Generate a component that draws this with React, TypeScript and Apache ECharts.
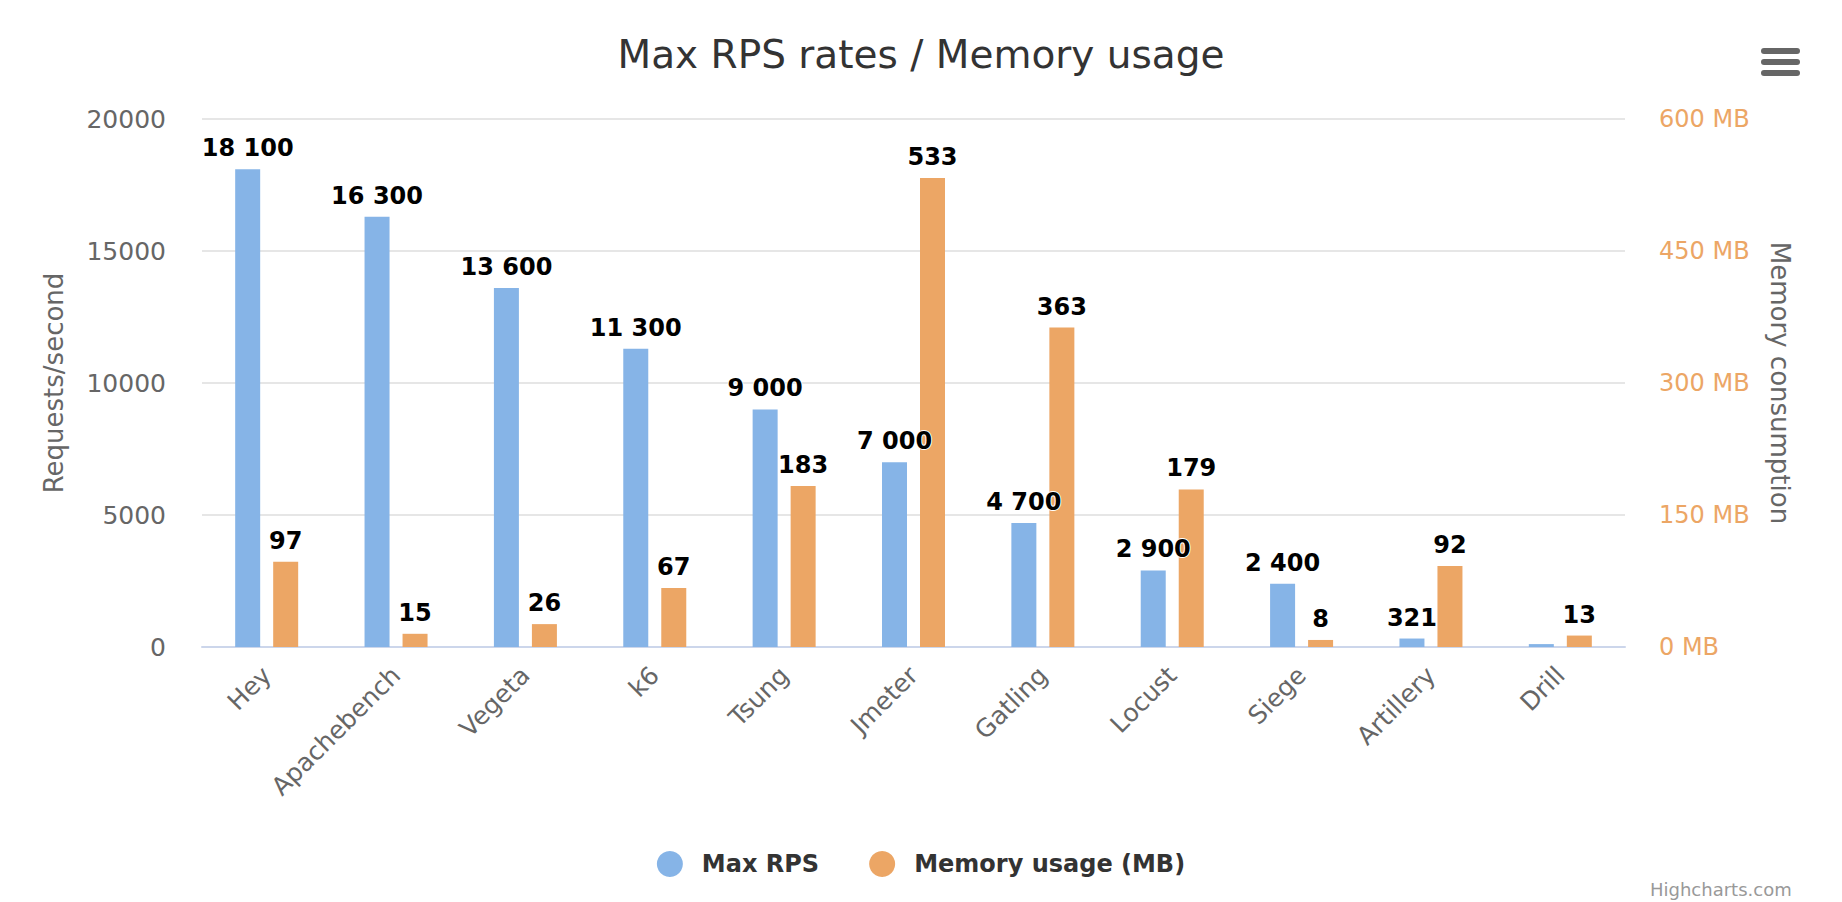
import React, { useEffect, useRef } from "react";
import * as echarts from "echarts";

const categories = ["Hey", "Apachebench", "Vegeta", "k6", "Tsung", "Jmeter", "Gatling", "Locust", "Siege", "Artillery", "Drill"];
const maxRps = [18100, 16300, 13600, 11300, 9000, 7000, 4700, 2900, 2400, 321, 110];
const memoryMb = [97, 15, 26, 67, 183, 533, 363, 179, 8, 92, 13];
const rpsLabelHidden = ["Drill"];
const leftTicks = { min: 0, max: 20000, interval: 5000 };
const rightTicks = { min: 0, max: 600, interval: 150 };

const FONT = "'DejaVu Sans', 'Open Sans', sans-serif";
const BLUE = "#86b4e7";
const ORANGE = "#eca665";

function fmtSpace(v: number): string {
  return String(v).replace(/\B(?=(\d{3})+(?!\d))/g, " ");
}

export default function App() {
  const ref = useRef<HTMLDivElement>(null);
  useEffect(() => {
    if (!ref.current) return;
    const chart = echarts.init(ref.current, null, { renderer: "svg" });
    const labelStyle = {
      show: true,
      position: "top" as const,
      distance: 9,
      fontFamily: FONT,
      fontWeight: "bold" as const,
      fontSize: 24,
      color: "#000",
      textBorderColor: "#fff",
      textBorderWidth: 2,
    };
    chart.setOption({
      animation: false,
      backgroundColor: "#fff",
      title: {
        text: "Max RPS rates / Memory usage",
        left: "center",
        top: 30,
        textStyle: { fontFamily: FONT, fontSize: 39, fontWeight: "normal", color: "#333" },
      },
      legend: {
        top: 846,
        left: "center",
        icon: "circle",
        itemWidth: 26,
        itemHeight: 26,
        itemGap: 50,
        textStyle: {
          fontFamily: FONT,
          fontSize: 24,
          fontWeight: "bold",
          color: "#333",
          padding: [0, 0, 0, 14],
        },
        data: ["Max RPS", "Memory usage (MB)"],
      },
      grid: { left: 202, right: 217, top: 119, bottom: 255, containLabel: false },
      xAxis: {
        type: "category",
        data: categories,
        axisLine: { lineStyle: { color: "#ccd6eb", width: 2 } },
        axisTick: { show: false },
        axisLabel: {
          rotate: 45,
          margin: 24,
          fontFamily: FONT,
          fontSize: 25,
          color: "#666",
          interval: 0,
        },
      },
      yAxis: [
        {
          type: "value",
          min: leftTicks.min,
          max: leftTicks.max,
          interval: leftTicks.interval,
          name: "Requests/second",
          nameLocation: "middle",
          nameGap: 135,
          nameRotate: 90,
          nameTextStyle: { fontFamily: FONT, fontSize: 26, color: "#666" },
          axisLabel: {
            fontFamily: FONT,
            fontSize: 25,
            color: "#666",
            margin: 36,
            formatter: (v: number) => String(v),
          },
          splitLine: { lineStyle: { color: "#e6e6e6", width: 2 } },
          axisLine: { show: false },
        },
        {
          type: "value",
          min: rightTicks.min,
          max: rightTicks.max,
          interval: rightTicks.interval,
          position: "right",
          name: "Memory consumption",
          nameLocation: "middle",
          nameGap: 142,
          nameRotate: -90,
          nameTextStyle: { fontFamily: FONT, fontSize: 26, color: "#666" },
          axisLabel: {
            fontFamily: FONT,
            fontSize: 24,
            color: ORANGE,
            margin: 34,
            formatter: (v: number) => `${v} MB`,
          },
          splitLine: { show: false },
          axisLine: { show: false },
        },
      ],
      series: [
        {
          name: "Max RPS",
          type: "bar",
          yAxisIndex: 0,
          barWidth: 25,
          barGap: "52%",
          itemStyle: { color: BLUE },
          label: { ...labelStyle, formatter: (p: any) => fmtSpace(p.value) },
          data: maxRps.map((v, i) =>
            rpsLabelHidden.includes(categories[i]) ? { value: v, label: { show: false } } : v
          ),
        },
        {
          name: "Memory usage (MB)",
          type: "bar",
          yAxisIndex: 1,
          barWidth: 25,
          itemStyle: { color: ORANGE },
          label: { ...labelStyle, formatter: (p: any) => fmtSpace(p.value) },
          data: memoryMb,
        },
      ],
      graphic: [
        {
          type: "group",
          left: 1761,
          top: 48,
          children: [
            { type: "rect", shape: { x: 0, y: 0, width: 39, height: 6, r: 3 }, style: { fill: "#666" } },
            { type: "rect", shape: { x: 0, y: 11, width: 39, height: 6, r: 3 }, style: { fill: "#666" } },
            { type: "rect", shape: { x: 0, y: 22, width: 39, height: 6, r: 3 }, style: { fill: "#666" } },
          ],
        },
        {
          type: "text",
          left: 1650,
          top: 880,
          style: { text: "Highcharts.com", fontFamily: FONT, fontSize: 18, fill: "#999" },
        },
      ],
    });
    return () => chart.dispose();
  }, []);
  return (
    <div
      ref={ref}
      style={{ position: "fixed", left: 0, top: 0, width: 1842, height: 902, background: "#fff" }}
    />
  );
}
